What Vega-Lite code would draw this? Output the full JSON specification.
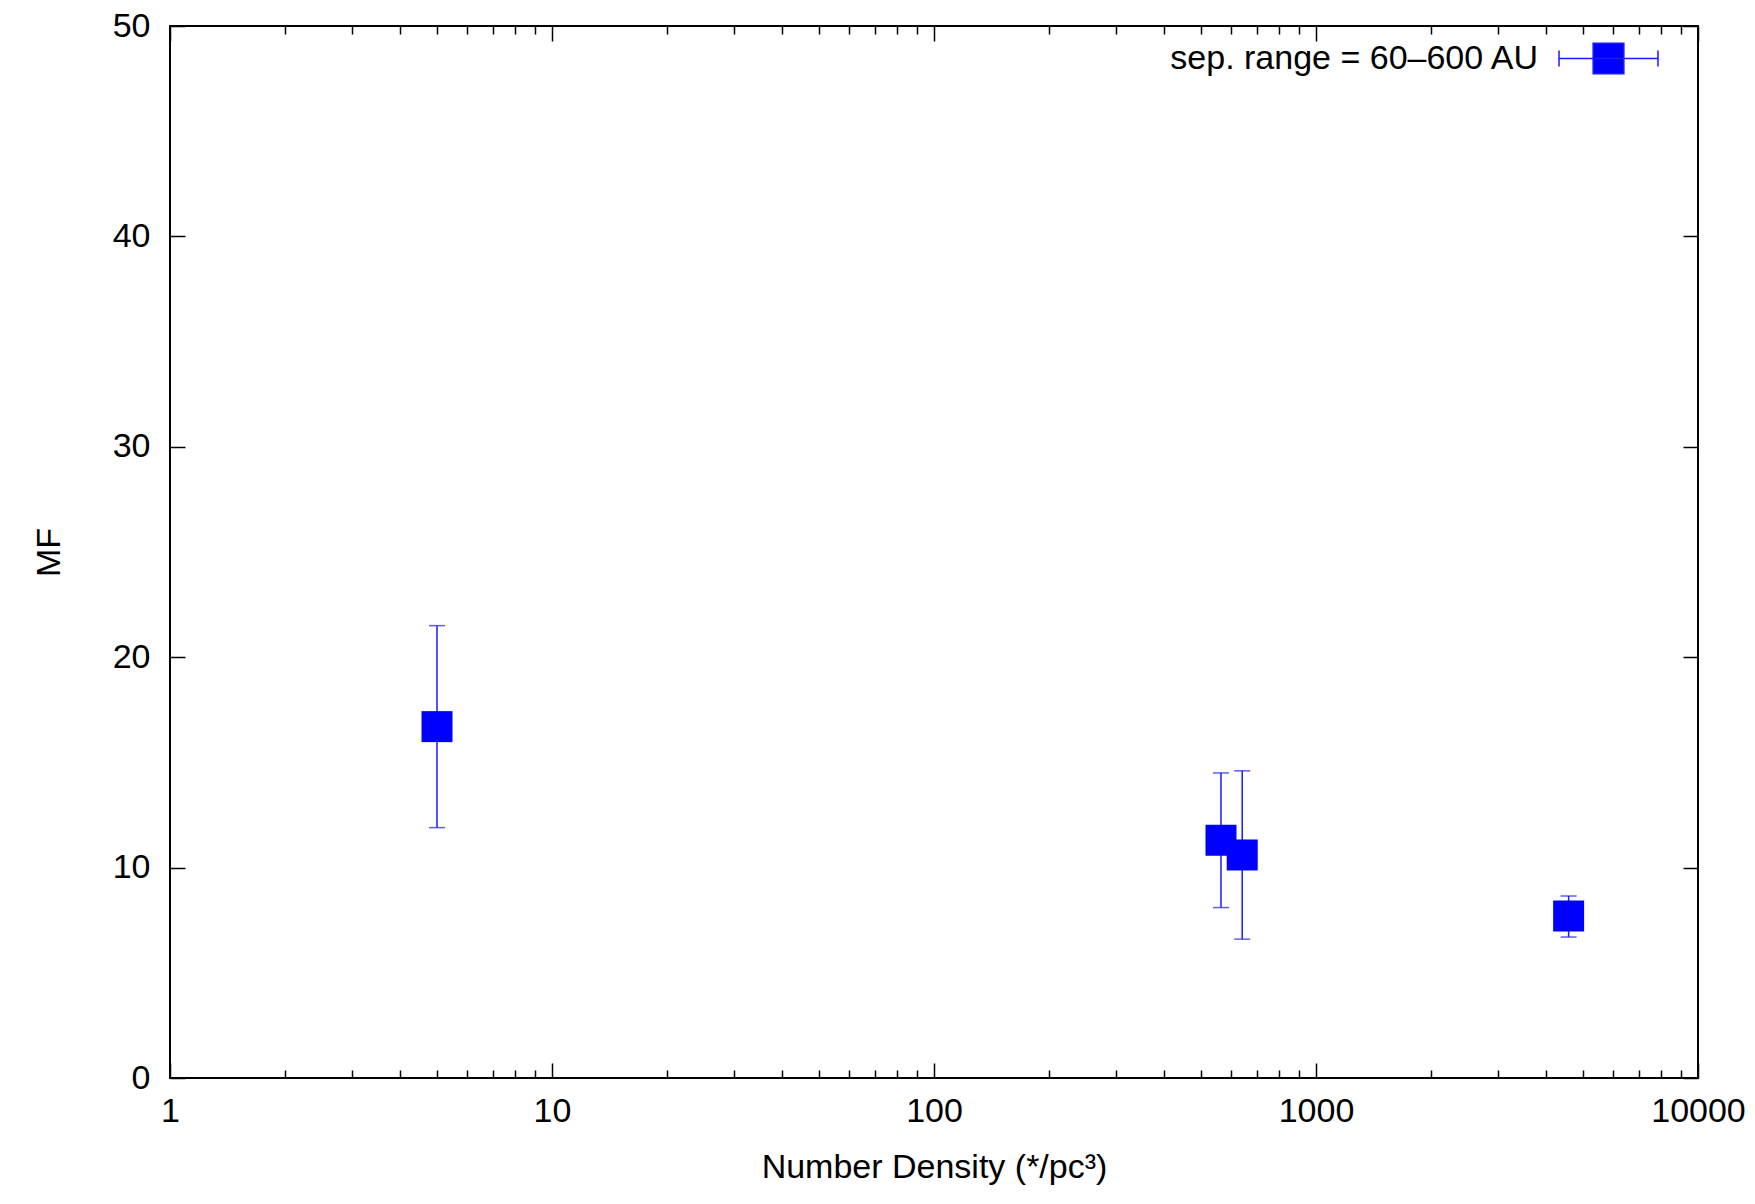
{
  "$schema": "https://vega.github.io/schema/vega-lite/v6.json",
  "width": 1528,
  "height": 1052,
  "autosize": {"type": "none"},
  "padding": {"left": 170, "top": 26, "right": 57, "bottom": 126},
  "background": "white",
  "config": {
    "view": {"stroke": "black", "strokeWidth": 2},
    "font": "Liberation Sans",
    "axis": {
      "grid": false,
      "domain": false,
      "tickColor": "black",
      "tickWidth": 1.5,
      "labelFont": "Liberation Sans",
      "labelFontSize": 34,
      "labelColor": "black",
      "titleFont": "Liberation Sans",
      "titleFontSize": 34,
      "titleFontWeight": "normal",
      "titleColor": "black",
      "labelFlush": false,
      "labelOverlap": false
    }
  },
  "data": {
    "values": [
      {"density": 5, "mf": 16.7, "lo": 11.9, "hi": 21.5, "series": "sep. range = 60–600 AU"},
      {"density": 564, "mf": 11.3, "lo": 8.1, "hi": 14.5, "series": "sep. range = 60–600 AU"},
      {"density": 641, "mf": 10.6, "lo": 6.6, "hi": 14.6, "series": "sep. range = 60–600 AU"},
      {"density": 4585, "mf": 7.7, "lo": 6.7, "hi": 8.65, "series": "sep. range = 60–600 AU"}
    ]
  },
  "layer": [
    {
      "mark": {"type": "rule", "color": "#1a1aff", "strokeWidth": 1.5},
      "encoding": {
        "x": {
          "field": "density",
          "type": "quantitative",
          "scale": {"type": "log", "domain": [1, 10000]},
          "axis": {
            "orient": "bottom",
            "title": "Number Density (*/pc³)",
            "values": [1,2,3,4,5,6,7,8,9,10,20,30,40,50,60,70,80,90,100,200,300,400,500,600,700,800,900,1000,2000,3000,4000,5000,6000,7000,8000,9000,10000],
            "tickSize": {"condition": {"test": "indexof([1,10,100,1000,10000], datum.value) >= 0", "value": -15}, "value": -8},
            "labelExpr": "indexof([1,10,100,1000,10000], datum.value) >= 0 ? format(datum.value, 'd') : ''",
            "labelPadding": 31,
            "titlePadding": 15
          }
        },
        "y": {
          "field": "lo",
          "type": "quantitative",
          "scale": {"domain": [0, 50]},
          "axis": {
            "orient": "left",
            "title": "MF",
            "values": [0, 10, 20, 30, 40, 50],
            "tickSize": -15,
            "labelPadding": 35,
            "titlePadding": 46
          }
        },
        "y2": {"field": "hi"}
      }
    },
    {
      "mark": {"type": "tick", "orient": "horizontal", "color": "#1a1aff", "size": 16, "thickness": 1.5},
      "encoding": {
        "x": {"field": "density", "type": "quantitative", "axis": null},
        "y": {"field": "lo", "type": "quantitative", "axis": null}
      }
    },
    {
      "mark": {"type": "tick", "orient": "horizontal", "color": "#1a1aff", "size": 16, "thickness": 1.5},
      "encoding": {
        "x": {"field": "density", "type": "quantitative", "axis": null},
        "y": {"field": "hi", "type": "quantitative", "axis": null}
      }
    },
    {
      "mark": {"type": "point", "shape": "square", "filled": true, "size": 961, "opacity": 1, "strokeWidth": 0},
      "encoding": {
        "x": {
          "field": "density",
          "type": "quantitative",
          "axis": {
            "orient": "top",
            "title": null,
            "labels": false,
            "values": [1,2,3,4,5,6,7,8,9,10,20,30,40,50,60,70,80,90,100,200,300,400,500,600,700,800,900,1000,2000,3000,4000,5000,6000,7000,8000,9000,10000],
            "tickSize": {"condition": {"test": "indexof([1,10,100,1000,10000], datum.value) >= 0", "value": -15}, "value": -8}
          }
        },
        "y": {
          "field": "mf",
          "type": "quantitative",
          "axis": {
            "orient": "right",
            "title": null,
            "labels": false,
            "values": [0, 10, 20, 30, 40, 50],
            "tickSize": -15
          }
        },
        "color": {
          "field": "series",
          "type": "nominal",
          "scale": {"domain": ["sep. range = 60–600 AU"], "range": ["#0000ff"]},
          "legend": {
            "orient": "none",
            "legendX": 1388,
            "legendY": -18,
            "title": null,
            "padding": 0,
            "symbolType": "M-1,-0.16V0.16M-1,0H1M1,-0.16V0.16M-0.31,-0.31H0.31V0.31H-0.31Z",
            "symbolSize": 9801,
            "symbolFillColor": "#0000ff",
            "symbolStrokeColor": "#1a1aff",
            "symbolStrokeWidth": 1.5,
            "labelAlign": "right",
            "labelOffset": -121,
            "labelFontSize": 34,
            "labelFont": "Liberation Sans",
            "labelColor": "black",
            "labelLimit": 0
          }
        }
      }
    }
  ]
}
